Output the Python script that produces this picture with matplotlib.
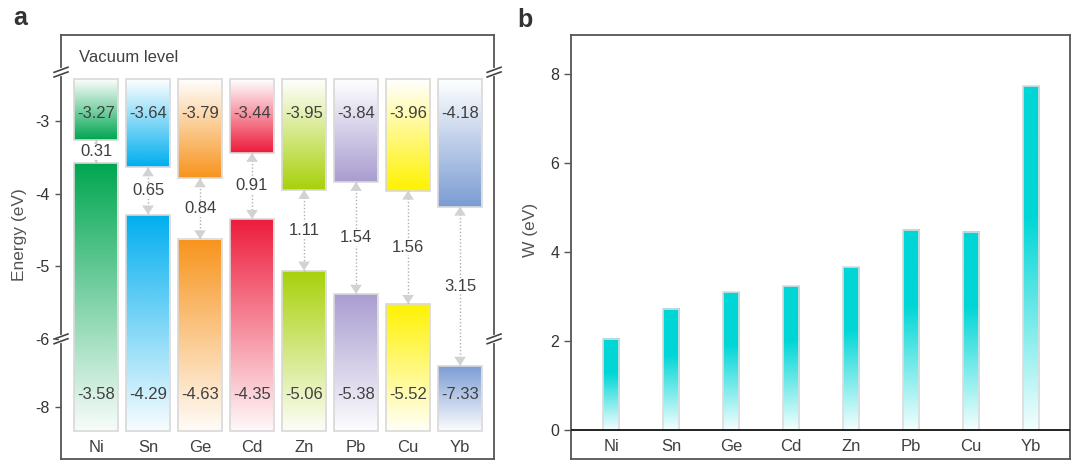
import numpy as np
import matplotlib
matplotlib.use("Agg")
import matplotlib.pyplot as plt
from matplotlib.colors import LinearSegmentedColormap
from matplotlib.patches import FancyArrowPatch
from matplotlib.transforms import blended_transform_factory

plt.rcParams["font.family"] = ["Liberation Sans", "DejaVu Sans"]
plt.rcParams["axes.unicode_minus"] = False

# data
metals = ["Ni", "Sn", "Ge", "Cd", "Zn", "Pb", "Cu", "Yb"]
upper_level = [-3.27, -3.64, -3.79, -3.44, -3.95, -3.84, -3.96, -4.18]
lower_level = [-3.58, -4.29, -4.63, -4.35, -5.06, -5.38, -5.52, -7.33]
bar_colors = ["#00a651", "#00aeef", "#f7941d", "#ed1c3c",
              "#a8d10a", "#a99dd0", "#fff200", "#7b9cd3"]
w_values = [2.05, 2.72, 3.10, 3.23, 3.66, 4.50, 4.46, 7.72]
energy_ticks = [-3, -4, -5, -6, -8]
w_ticks = [0, 2, 4, 6, 8]

TEXT = "#404040"
SPINE = "#555555"


# broken energy axis: linear above -6, gap -6..-6.9 squeezed, compressed below
def fwd(e):
    e = np.asarray(e, dtype=float)
    return np.where(e >= -6, e,
                    np.where(e >= -6.9, -6 + (e + 6) * 0.01,
                             -6.009 + (e + 6.9) * 0.84))


def inv(y):
    y = np.asarray(y, dtype=float)
    return np.where(y >= -6, y,
                    np.where(y >= -6.009, -6 + (y + 6) / 0.01,
                             -6.9 + (y + 6.009) / 0.84))


def screen_gradient(y0, y1, n=800):
    # rows evenly spaced in data, values linear on screen (0 at y0, 1 at y1)
    ys = np.linspace(y0, y1, n)
    f = fwd(ys)
    return ((f - f[0]) / (f[-1] - f[0])).reshape(-1, 1)


def style_axes(ax, ticklen):
    for s in ax.spines.values():
        s.set_color(SPINE)
        s.set_linewidth(1.3)
    ax.tick_params(axis="y", direction="out", length=ticklen, width=1,
                   color=SPINE, labelsize=11.5, labelcolor="#333333", pad=3.5)
    ax.set_xticks([])


def break_mark(ax, xa, ya):
    dy = 0.0055
    ax.plot([xa, xa], [ya - dy, ya + dy], transform=ax.transAxes,
            color="white", lw=3, clip_on=False, zorder=10)
    for off in (-dy, dy):
        ax.plot([xa - 0.016, xa + 0.016], [ya + off - 0.006, ya + off + 0.006],
                transform=ax.transAxes, color="#444444", lw=1.2,
                clip_on=False, zorder=11)


fig = plt.figure(figsize=(10.8, 4.7), dpi=100)

# ---------------- panel a ----------------
ax1 = fig.add_axes([0.0565, 0.0234, 0.401, 0.902])
ax1.set_yscale("function", functions=(fwd, inv))
x = np.arange(len(metals))
bw = 0.846
top_e, bottom_e = -2.43, -8.40
upper_h = [top_e - u for u in upper_level]
lower_h = [lo - bottom_e for lo in lower_level]

ax1.bar(x, upper_h, bw, bottom=upper_level, facecolor="none",
        edgecolor="#d8d8d8", lw=1.2, zorder=3)
ax1.bar(x, lower_h, bw, bottom=bottom_e, facecolor="none",
        edgecolor="#d8d8d8", lw=1.2, zorder=3)

trans1 = blended_transform_factory(ax1.transData, ax1.transAxes)
for xi, up, lo, c in zip(x, upper_level, lower_level, bar_colors):
    cmap = LinearSegmentedColormap.from_list("m", ["white", c])
    ax1.imshow(1 - screen_gradient(up, top_e), cmap=cmap, vmin=0, vmax=1,
               origin="lower", extent=[xi - bw / 2, xi + bw / 2, up, top_e],
               aspect="auto", zorder=2, interpolation="bilinear")
    ax1.imshow(screen_gradient(bottom_e, lo) * 0.97 + 0.03, cmap=cmap,
               vmin=0, vmax=1, origin="lower",
               extent=[xi - bw / 2, xi + bw / 2, bottom_e, lo],
               aspect="auto", zorder=2, interpolation="bilinear")

    # gap arrow
    ax1.plot([xi, xi], [up, lo], ls=(0, (1, 1.5)), color="#b0b0b0",
             lw=1, zorder=4)
    arr = FancyArrowPatch((xi, lo), (xi, up),
                          arrowstyle="<|-|>,head_length=0.65,head_width=0.42",
                          mutation_scale=10, lw=0, color="#d2d2d2",
                          shrinkA=0, shrinkB=0, zorder=4)
    ax1.add_patch(arr)
    mid = inv((fwd(up) + fwd(lo)) / 2)
    ax1.text(xi, float(mid), f"{up - lo:.2f}", ha="center", va="center",
             fontsize=12, color=TEXT, zorder=5,
             bbox=dict(fc="white", ec="none", pad=0.5))

    ax1.text(xi, 0.814, f"{up:.2f}", transform=trans1, ha="center",
             va="center", fontsize=12, color=TEXT, zorder=5)
    ax1.text(xi, 0.153, f"{lo:.2f}", transform=trans1, ha="center",
             va="center", fontsize=12, color=TEXT, zorder=5)

for xi, m in zip(x, metals):
    ax1.text(xi, 0.028, m, transform=trans1, ha="center", va="center",
             fontsize=12, color=TEXT)

ax1.text(0.042, 0.946, "Vacuum level", transform=ax1.transAxes,
         ha="left", va="center", fontsize=12, color=TEXT)

ax1.set_xlim(-0.673, 7.654)
ax1.set_ylim(-8.857, -1.82)
ax1.set_yticks(energy_ticks)
ax1.set_yticklabels([str(t) for t in energy_ticks])
ax1.minorticks_off()
style_axes(ax1, 4.5)
ax1.set_ylabel("Energy (eV)", fontsize=12.5, color="#555555")
ax1.yaxis.set_label_coords(-0.079, 0.53)

for yb in (-2.33, -6):
    ya = ax1.transAxes.inverted().transform(ax1.transData.transform((0, yb)))[1]
    break_mark(ax1, 0, ya)
    break_mark(ax1, 1, ya)

# ---------------- panel b ----------------
ax2 = fig.add_axes([0.5287, 0.0234, 0.462, 0.902])
bw2 = 0.28
cyan_cmap = LinearSegmentedColormap.from_list(
    "w", [(0, "#f4fefe"), (0.62, "#00d6d6"), (1, "#00d6d6")])
grad = np.linspace(0, 1, 256).reshape(-1, 1)
ax2.bar(x, w_values, bw2, facecolor="none", edgecolor="#dcdcdc",
        lw=1.2, zorder=3)
for xi, v in zip(x, w_values):
    ax2.imshow(grad, cmap=cyan_cmap, vmin=0, vmax=1, origin="lower",
               extent=[xi - bw2 / 2, xi + bw2 / 2, 0, v],
               aspect="auto", zorder=2, interpolation="bilinear")
    ax2.text(xi, -0.38, metals[xi], ha="center", va="center",
             fontsize=12, color=TEXT)

ax2.axhline(0, color="#111111", lw=1.3, zorder=4)
ax2.set_xlim(-0.667, 7.65)
ax2.set_ylim(-0.652, 8.876)
ax2.set_yticks(w_ticks)
style_axes(ax2, 5)
ax2.set_ylabel("W (eV)", fontsize=12.5, color="#555555")
ax2.yaxis.set_label_coords(-0.066, 0.54)

fig.text(0.012, 0.947, "a", fontsize=18, fontweight="bold", color="#333333")
fig.text(0.4787, 0.943, "b", fontsize=18, fontweight="bold", color="#333333")

fig.savefig("out.png", dpi=100)
